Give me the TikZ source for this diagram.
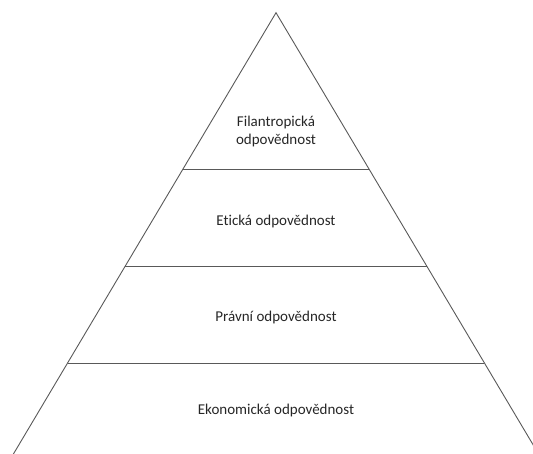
\documentclass[tikz,border=0pt]{standalone}
\usepackage{fontspec}
\setmainfont{Carlito}[Ligatures=NoCommon]
\usetikzlibrary{calc}

\begin{document}
\begin{tikzpicture}[
    x=1pt, y=-1pt,
    edge/.style={draw=black!65, line width=0.9pt},
    level/.style={font=\fontsize{15}{18}\selectfont, text=black!85, align=center}
]
    % Frame
    \useasboundingbox (0,0) rectangle (533,454);
    \clip (0,0) rectangle (533,454);

    % Pyramid
    \coordinate (top) at (276,12.7);
    \coordinate (bl) at ($(top)+(-0.595*460,460)$);
    \coordinate (br) at ($(top)+(0.595*460,460)$);
    \draw[edge] (bl) -- (top) -- (br);

    % Levels
    \foreach \y/\n in {169/a, 266/b, 363/c} {
        \coordinate (\n l) at ($(top)+(-0.595*\y+0.595*12.7,\y-12.7)$);
        \coordinate (\n r) at ($(top)+(0.595*\y-0.595*12.7,\y-12.7)$);
        \draw[edge] (\n l) -- (\n r);
    }

    % Labels
    \node[level] (filan) at (276,132) {Filantropická\\odpovědnost};
    \node[level] (etic) at (276,222) {Etická odpovědnost};
    \node[level] (prav) at (276,318) {Právní odpovědnost};
    \node[level] (ekon) at (276,411) {Ekonomická odpovědnost};
\end{tikzpicture}
\end{document}
